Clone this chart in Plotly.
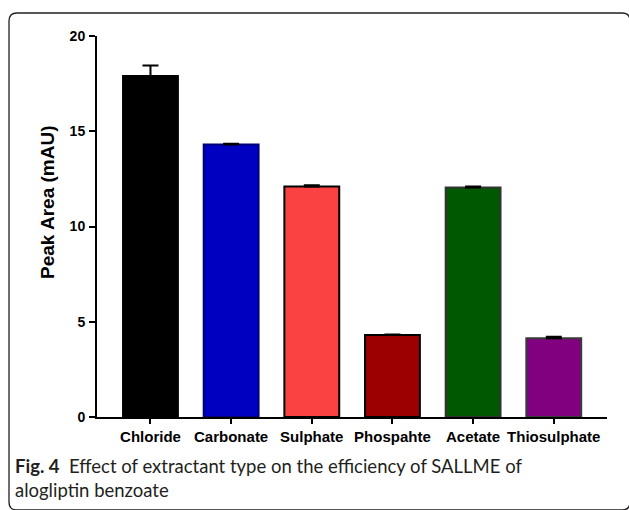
import plotly.graph_objects as go

# Extractant types and measured peak areas (mean, upper SD)
categories = ["Chloride", "Carbonate", "Sulphate", "Phospahte", "Acetate", "Thiosulphate"]
peak_area = [17.9, 14.3, 12.1, 4.3, 12.05, 4.13]
peak_sd = [0.55, 0.04, 0.06, 0.03, 0.05, 0.08]
y_ticks = [0, 5, 10, 15, 20]

fill_colors = ["#000000", "#0000C0", "#FA4242", "#9C0000", "#005800", "#800080"]
edge_colors = ["#000000", "#00007A", "#000000", "#000000", "#333333", "#3A3A3A"]

W, H = 629, 510
L, R, T, B = 97, 22, 36, 93
pw, ph = W - L - R, H - T - B


def px_x(px):
    return (px - L) / pw


def px_y(py):
    return (H - B - py) / ph


fig = go.Figure()
fig.add_trace(go.Bar(
    x=list(range(len(categories))),
    y=peak_area,
    width=0.68,
    marker=dict(color=fill_colors, line=dict(color=edge_colors, width=2)),
    error_y=dict(type="data", symmetric=False, array=peak_sd,
                 arrayminus=[0] * len(peak_sd), color="#000000",
                 thickness=2, width=8),
    showlegend=False,
))

tick_font = dict(family="Liberation Sans, Arial", size=14, color="#000000")
fig.update_layout(
    width=W, height=H,
    margin=dict(l=L, r=R, t=T, b=B, autoexpand=False),
    paper_bgcolor="#FFFFFF", plot_bgcolor="#FFFFFF",
    bargap=0.3,
    xaxis=dict(
        range=[-0.663, 5.66], tickmode="array",
        tickvals=list(range(len(categories))),
        ticktext=[f"<b>{c}</b>" for c in categories],
        showline=True, linecolor="#000000", linewidth=2,
        ticks="outside", ticklen=5, tickwidth=1.5, tickcolor="#000000",
        showgrid=False, zeroline=False,
        tickfont=dict(family="Liberation Sans, Arial", size=15, color="#000000"),
    ),
    yaxis=dict(
        range=[0, 20], tickmode="array", tickvals=y_ticks,
        ticktext=[f"<b>{v}</b>" for v in y_ticks],
        showline=True, linecolor="#000000", linewidth=2,
        ticks="outside", ticklen=6, tickwidth=2, tickcolor="#000000",
        showgrid=False, zeroline=False, tickfont=tick_font,
        ticklabelstandoff=1,
    ),
)

# Vertical axis title
fig.add_annotation(
    text="<b>Peak Area (mAU)</b>", textangle=-90,
    xref="paper", yref="paper", x=px_x(47), y=px_y(203),
    xanchor="center", yanchor="middle", showarrow=False,
    font=dict(family="Liberation Sans, Arial", size=19, color="#000000"),
)

# Figure caption below the chart
fig.add_annotation(
    text="<b>Fig. 4</b>  Effect of extractant type on the efficiency of SALLME of<br>alogliptin benzoate",
    xref="paper", yref="paper", x=px_x(13), y=px_y(453),
    xanchor="left", yanchor="top", align="left", showarrow=False,
    font=dict(family="Lato, Open Sans", size=18.5, color="#231F20"),
)

# Rounded frame around figure and caption
x0, x1 = px_x(9), px_x(630)
y0, y1 = px_y(13), px_y(510)
rx, ry = 8 / pw, 8 / ph
path = (f"M {x0},{y1 + ry} L {x0},{y0 - ry} Q {x0},{y0} {x0 + rx},{y0} "
        f"L {x1 - rx},{y0} Q {x1},{y0} {x1},{y0 - ry} "
        f"L {x1},{y1 + ry} Q {x1},{y1} {x1 - rx},{y1} "
        f"L {x0 + rx},{y1} Q {x0},{y1} {x0},{y1 + ry} Z")
fig.add_shape(type="path", path=path, xref="paper", yref="paper",
              line=dict(color="#231F20", width=1.3), layer="below")

fig.write_html("out.html")
